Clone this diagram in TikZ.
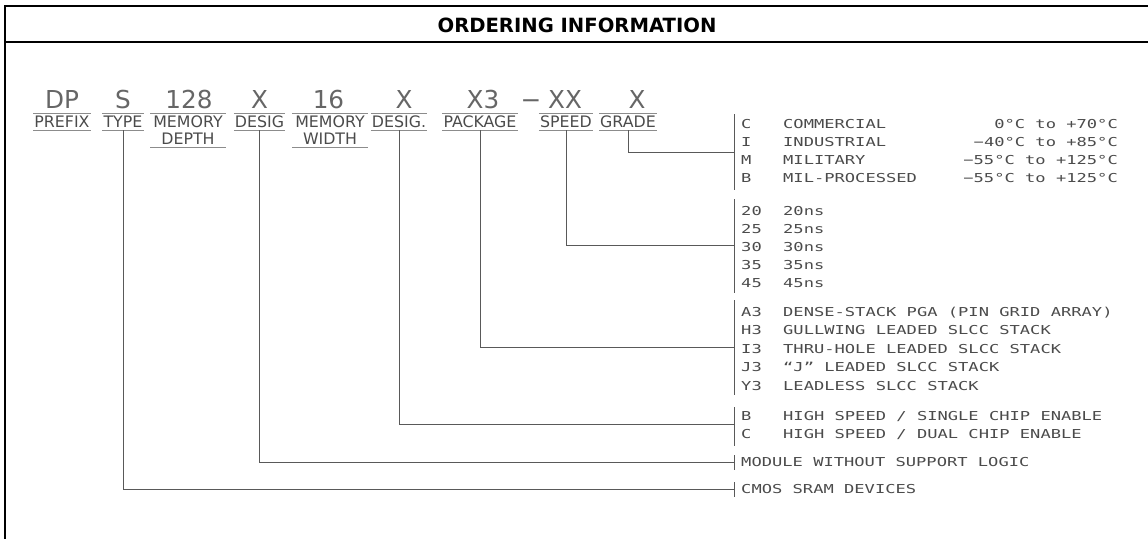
\documentclass[tikz,border=0pt]{standalone}
\usepackage{fontspec}
\usepackage{tikz}
\usetikzlibrary{positioning}
\newfontfamily\cadlist{DejaVu Sans Mono}[FakeStretch=1.39]
\newfontfamily\cadlabel{DejaVu Sans}
\newfontfamily\headfont{DejaVu Sans}
\definecolor{CadInk}{RGB}{75,75,75}
\definecolor{CadRule}{RGB}{140,140,140}
\newcommand{\optrow}[2]{\makebox[42pt][l]{#1}#2}

\begin{document}
\begin{tikzpicture}[
    x=1pt, y=-1pt,
    node distance=0pt,
    frame/.style={line width=2.4pt, black},
    codechar/.style={inner sep=0pt, text height=18pt, text depth=0pt, text=black!60, font=\cadlabel\fontsize{24.7}{28}\selectfont},
    fieldlbl/.style={inner xsep=1pt, inner ysep=2.5pt, text height=11.5pt, text depth=0pt, text=CadInk, font=\cadlabel\fontsize{15.8}{18}\selectfont},
    optline/.style={anchor=west, inner sep=0pt, text height=9pt, text depth=0pt, text=CadInk, font=\cadlist\fontsize{12.3}{14}\selectfont},
    temprange/.style={optline, anchor=east},
    fieldrule/.style={line width=1.4pt, CadRule},
    leader/.style={line width=0.9pt, black!65},
    bracket/.style={line width=0.9pt, black!65}
]
\useasboundingbox (0,0) rectangle (1148,539);

% frame and title
\coordinate (ftl) at (5,6);
\coordinate (ftr) at (1148,6);
\coordinate (fsl) at (5,42);
\coordinate (fsr) at (1148,42);
\coordinate (fbl) at (5,539);
\draw[frame] (ftr) -- (ftl) -- (fbl);
\draw[frame] (fsl) -- (fsr);
\node[font=\headfont\bfseries\fontsize{19.6}{22}\selectfont] (title) at (577,25) {ORDERING INFORMATION};

% part number
\node[codechar] (cprefix) at (62,99) {DP};
\node[codechar] (ctype) at (123,99) {S};
\node[codechar] (cdepth) at (189,99) {128};
\node[codechar] (cdesig) at (259.5,99) {X};
\node[codechar] (cwidth) at (328.5,99) {16};
\node[codechar] (cdesigb) at (404,99) {X};
\node[codechar] (cpackage) at (483,99) {X3};
\node[codechar] (cdash) at (531,99) {−};
\node[codechar] (cspeed) at (565,99) {XX};
\node[codechar] (cgrade) at (637,99) {X};

% field names
\node[fieldlbl] (prefix) at (62,122) {PREFIX};
\node[fieldlbl] (type) at (123,122) {TYPE};
\node[fieldlbl] (depth) at (188,122) {MEMORY};
\node[fieldlbl, below=of depth] (depthb) {DEPTH};
\node[fieldlbl] (desig) at (259.5,122) {DESIG};
\node[fieldlbl] (width) at (330,122) {MEMORY};
\node[fieldlbl, below=of width] (widthb) {WIDTH};
\node[fieldlbl] (desigb) at (399,122) {DESIG.};
\node[fieldlbl] (package) at (480,122) {PACKAGE};
\node[fieldlbl] (speed) at (566,122) {SPEED};
\node[fieldlbl] (grade) at (628,122) {GRADE};

\draw[fieldrule] (prefix.north west) -- (prefix.north east);
\draw[fieldrule] (prefix.south west) -- (prefix.south east);
\draw[fieldrule] (type.north west) -- (type.north east);
\draw[fieldrule] (type.south west) -- (type.south east);
\draw[fieldrule] ([xshift=-2pt]depth.north west) -- ([xshift=2pt]depth.north east);
\draw[fieldrule] ([xshift=-2pt]depth.west |- depthb.south) -- ([xshift=2pt]depth.east |- depthb.south);
\draw[fieldrule] (desig.north west) -- (desig.north east);
\draw[fieldrule] (desig.south west) -- (desig.south east);
\draw[fieldrule] ([xshift=-2pt]width.north west) -- ([xshift=2pt]width.north east);
\draw[fieldrule] ([xshift=-2pt]width.west |- widthb.south) -- ([xshift=2pt]width.east |- widthb.south);
\draw[fieldrule] (desigb.north west) -- (desigb.north east);
\draw[fieldrule] (desigb.south west) -- (desigb.south east);
\draw[fieldrule] (package.north west) -- (package.north east);
\draw[fieldrule] (package.south west) -- (package.south east);
\draw[fieldrule] (speed.north west) -- (speed.north east);
\draw[fieldrule] (speed.south west) -- (speed.south east);
\draw[fieldrule] (grade.north west) -- (grade.north east);
\draw[fieldrule] (grade.south west) -- (grade.south east);

% grade options
\node[optline] (gc) at (741,124) {\optrow{C}{COMMERCIAL}};
\node[optline] (gi) at (741,142) {\optrow{I}{INDUSTRIAL}};
\node[optline] (gm) at (741,160) {\optrow{M}{MILITARY}};
\node[optline] (gb) at (741,178) {\optrow{B}{MIL-PROCESSED}};
\node[temprange] (tc) at (1118,124) {0°C to +70°C};
\node[temprange] (ti) at (1118,142) {−40°C to +85°C};
\node[temprange] (tm) at (1118,160) {−55°C to +125°C};
\node[temprange] (tb) at (1118,178) {−55°C to +125°C};

% speed options
\node[optline] (s20) at (741,211) {\optrow{20}{20ns}};
\node[optline] (s25) at (741,229) {\optrow{25}{25ns}};
\node[optline] (s30) at (741,247) {\optrow{30}{30ns}};
\node[optline] (s35) at (741,265) {\optrow{35}{35ns}};
\node[optline] (s45) at (741,283) {\optrow{45}{45ns}};

% package options
\node[optline] (pa3) at (741,312) {\optrow{A3}{DENSE-STACK PGA (PIN GRID ARRAY)}};
\node[optline] (ph3) at (741,330) {\optrow{H3}{GULLWING LEADED SLCC STACK}};
\node[optline] (pi3) at (741,349) {\optrow{I3}{THRU-HOLE LEADED SLCC STACK}};
\node[optline] (pj3) at (741,367) {\optrow{J3}{“J” LEADED SLCC STACK}};
\node[optline] (py3) at (741,386) {\optrow{Y3}{LEADLESS SLCC STACK}};

% chip enable options
\node[optline] (db) at (741,416) {\optrow{B}{HIGH SPEED / SINGLE CHIP ENABLE}};
\node[optline] (dc) at (741,434) {\optrow{C}{HIGH SPEED / DUAL CHIP ENABLE}};

\node[optline] (module) at (741,462) {MODULE WITHOUT SUPPORT LOGIC};
\node[optline] (cmos) at (741,489) {CMOS SRAM DEVICES};

% brackets
\coordinate (gtop) at (734,114);
\coordinate (gbot) at (734,190);
\coordinate (gjoin) at (734,152);
\coordinate (stop) at (734,199);
\coordinate (sbot) at (734,293);
\coordinate (sjoin) at (734,245);
\coordinate (ptop) at (734,300);
\coordinate (pbot) at (734,395);
\coordinate (pjoin) at (734,347);
\coordinate (dtop) at (734,407);
\coordinate (dbot) at (734,446);
\coordinate (djoin) at (734,424);
\coordinate (mtop) at (734,455);
\coordinate (mbot) at (734,470);
\coordinate (mjoin) at (734,462);
\coordinate (ctop) at (734,482);
\coordinate (cbot) at (734,497);
\coordinate (cjoin) at (734,489);
\draw[bracket] (gtop) -- (gbot);
\draw[bracket] (stop) -- (sbot);
\draw[bracket] (ptop) -- (pbot);
\draw[bracket] (dtop) -- (dbot);
\draw[bracket] (mtop) -- (mbot);
\draw[bracket] (ctop) -- (cbot);

% leaders
\draw[leader] (grade.south) |- (gjoin);
\draw[leader] (speed.south) |- (sjoin);
\draw[leader] (package.south) |- (pjoin);
\draw[leader] (desigb.south) |- (djoin);
\draw[leader] (desig.south) |- (mjoin);
\draw[leader] (type.south) |- (cjoin);
\end{tikzpicture}
\end{document}
